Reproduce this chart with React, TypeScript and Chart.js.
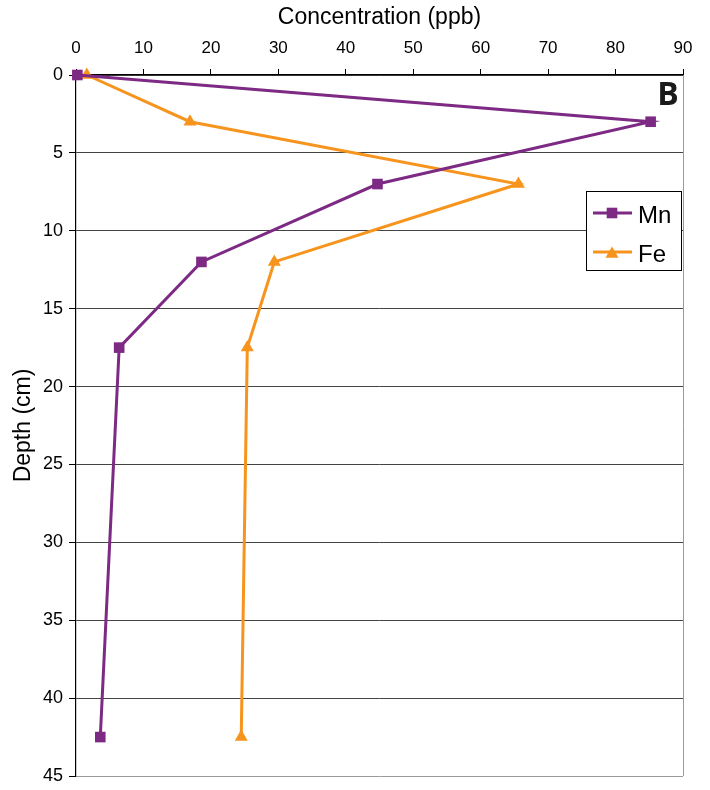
import { useEffect, useRef } from "react";
import { Chart, registerables } from "chart.js";

Chart.register(...registerables);

// Depth profile of dissolved Mn and Fe
const depthCm = [0, 3, 7, 12, 17.5, 42.5];
const mnPpb = [0.2, 85.2, 44.7, 18.6, 6.4, 3.6];
const fePpb = [1.6, 16.9, 65.6, 29.4, 25.4, 24.5];

const seriesNames = ["Mn", "Fe"];
const seriesColors = ["#7D2A84", "#F7941D"];
const seriesMarkers = ["rect", "triangle"];

const xTitle = "Concentration (ppb)";
const yTitle = "Depth (cm)";
const panelLabel = "B";

const FONT = "'Liberation Sans', Arial, sans-serif";

function drawMarker(ctx: CanvasRenderingContext2D, style: string, x: number, y: number, r: number, color: string) {
  ctx.fillStyle = color;
  ctx.beginPath();
  if (style === "rect") {
    const s = Math.SQRT1_2 * r;
    ctx.rect(x - s, y - s, 2 * s, 2 * s);
  } else {
    ctx.moveTo(x, y - r);
    ctx.lineTo(x + r * 0.866, y + r * 0.5);
    ctx.lineTo(x - r * 0.866, y + r * 0.5);
    ctx.closePath();
  }
  ctx.fill();
}

const decorPlugin = {
  id: "decor",
  beforeDatasetsDraw(chart: any) {
    const { ctx, chartArea } = chart;
    ctx.save();
    ctx.strokeStyle = "#9a9a9a";
    ctx.lineWidth = 1;
    ctx.beginPath();
    ctx.moveTo(chartArea.right + 0.5, chartArea.top);
    ctx.lineTo(chartArea.right + 0.5, chartArea.bottom);
    ctx.stroke();
    ctx.restore();
  },
  afterDraw(chart: any) {
    const { ctx } = chart;
    ctx.save();
    // legend box
    const bx = 586.5, by = 191.5, bw = 95, bh = 79;
    ctx.fillStyle = "#fff";
    ctx.fillRect(bx, by, bw, bh);
    ctx.strokeStyle = "#000";
    ctx.lineWidth = 1;
    ctx.strokeRect(bx, by, bw, bh);
    const rows = [213, 252];
    seriesNames.forEach((name, i) => {
      const y = rows[i];
      ctx.strokeStyle = seriesColors[i];
      ctx.lineWidth = 3;
      ctx.beginPath();
      ctx.moveTo(593, y);
      ctx.lineTo(632, y);
      ctx.stroke();
      drawMarker(ctx, seriesMarkers[i], 612, seriesMarkers[i] === "triangle" ? y + 2 : y, 7.5, seriesColors[i]);
      ctx.fillStyle = "#000";
      ctx.font = `24px ${FONT}`;
      ctx.textAlign = "left";
      ctx.textBaseline = "middle";
      ctx.fillText(name, 638, y + 3);
    });
    // panel letter
    ctx.fillStyle = "#1a1a1a";
    ctx.font = `bold 32px 'Open Sans', 'DejaVu Sans', sans-serif`;
    ctx.textAlign = "center";
    ctx.textBaseline = "middle";
    ctx.fillText(panelLabel, 668, 96);
    ctx.restore();
  },
};

export default function App() {
  const canvasRef = useRef<HTMLCanvasElement | null>(null);

  useEffect(() => {
    if (!canvasRef.current) return;
    const series = [mnPpb, fePpb];
    const chart = new Chart(canvasRef.current, {
      type: "scatter",
      data: {
        datasets: series.map((vals, i) => ({
          label: seriesNames[i],
          data: vals.map((v, j) => ({ x: v, y: depthCm[j] })),
          showLine: true,
          borderColor: seriesColors[i],
          backgroundColor: seriesColors[i],
          borderWidth: 3,
          pointStyle: seriesMarkers[i] as any,
          pointRadius: 7.5,
          pointBorderWidth: 0,
          clip: false as any,
        })),
      },
      options: {
        responsive: false,
        animation: false,
        layout: { padding: { left: 0, top: 0, right: 27, bottom: 14 } },
        plugins: {
          legend: { display: false },
          tooltip: { enabled: false },
        },
        scales: {
          x: {
            type: "linear",
            position: "top",
            min: 0,
            max: 90,
            afterFit: (s: any) => {
              s.height = 75;
              s.paddingLeft = 0;
              s.paddingRight = 0;
            },
            ticks: {
              stepSize: 10,
              color: "#000",
              font: { family: FONT, size: 17 },
              padding: 10,
            },
            grid: {
              drawOnChartArea: false,
              tickLength: 6,
              color: "#000",
            },
            border: { display: true, color: "#000", width: 1.2 },
            title: {
              display: true,
              text: xTitle,
              color: "#000",
              font: { family: FONT, size: 23 },
              padding: { top: 4, bottom: 0 },
            },
          },
          y: {
            type: "linear",
            reverse: true,
            min: 0,
            max: 45,
            afterFit: (s: any) => {
              s.width = 76;
              s.paddingTop = 0;
              s.paddingBottom = 0;
            },
            ticks: {
              stepSize: 5,
              color: "#000",
              font: { family: FONT, size: 18 },
              padding: 6,
            },
            grid: {
              tickLength: 7,
              tickColor: "#000",
              color: (c: any) => (c.tick && c.tick.value === 45 ? "#9a9a9a" : "#444"),
              lineWidth: 1,
            },
            border: { display: true, color: "#000", width: 1.2 },
            title: {
              display: true,
              text: yTitle,
              color: "#000",
              font: { family: FONT, size: 23 },
              padding: { top: 10, bottom: 0 },
            },
          },
        },
      },
      plugins: [decorPlugin],
    });
    return () => chart.destroy();
  }, []);

  return (
    <div style={{ position: "absolute", left: 0, top: 0, width: 710, height: 790, background: "#fff" }}>
      <canvas ref={canvasRef} width={710} height={790} />
    </div>
  );
}
